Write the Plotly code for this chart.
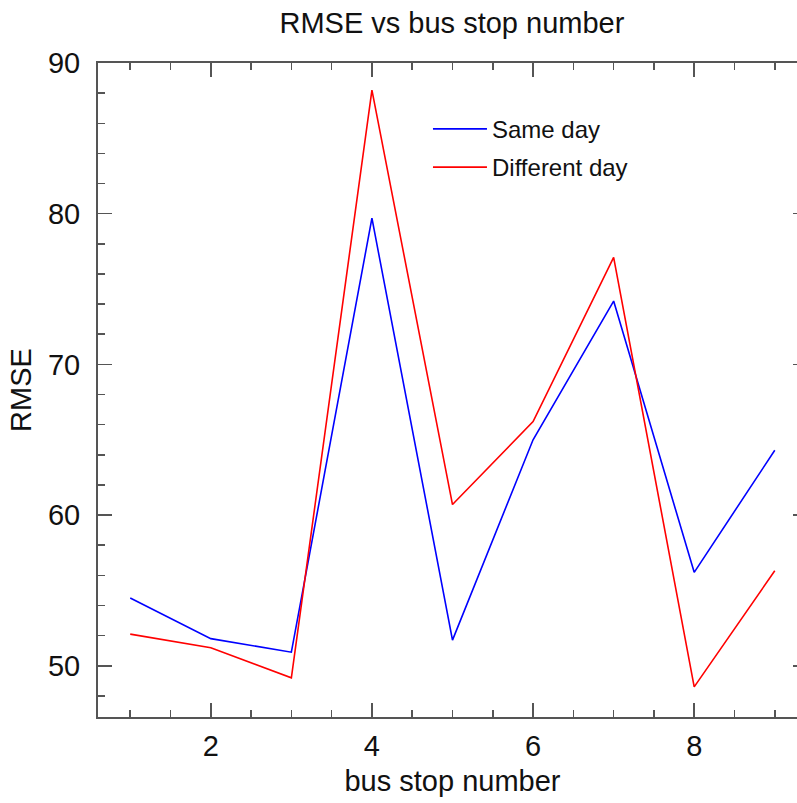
import plotly.graph_objects as go

bus_stop = [1, 2, 3, 4, 5, 6, 7, 8, 9]
same_day = [54.5, 51.8, 50.9, 79.7, 51.7, 65.0, 74.2, 56.2, 64.3]
different_day = [52.1, 51.2, 49.2, 88.2, 60.7, 66.2, 77.1, 48.6, 56.3]

FONT = "Liberation Sans, Arial, Helvetica, sans-serif"
AX = "#555555"
TXT = "#111111"

fig = go.Figure()
fig.add_trace(go.Scatter(x=bus_stop, y=same_day, mode="lines", name="Same day",
                         legendgroup="a", line=dict(color="#0000ff", width=1.6)))
fig.add_trace(go.Scatter(x=bus_stop, y=different_day, mode="lines", name="Different day",
                         legendgroup="b", line=dict(color="#ff0000", width=1.6)))

axis_common = dict(
    showline=True, linecolor=AX, linewidth=2, mirror="allticks",
    ticks="inside", ticklen=14, tickwidth=1.5, tickcolor=AX,
    showgrid=False, zeroline=False, automargin=False,
    tickfont=dict(family=FONT, size=29, color=TXT),
)

fig.update_xaxes(range=[0.6, 9.4], tick0=2, dtick=2,
                 minor=dict(ticks="inside", ticklen=7, tickwidth=1.5, tickcolor=AX, dtick=0.5, showgrid=False),
                 title=dict(text="bus stop number", font=dict(family=FONT, size=29, color=TXT), standoff=10),
                 ticklabelstandoff=2,
                 **axis_common)
fig.update_yaxes(range=[46.6, 90], tick0=50, dtick=10,
                 minor=dict(ticks="inside", ticklen=7, tickwidth=1.5, tickcolor=AX, dtick=2, showgrid=False),
                 title=dict(text="RMSE", font=dict(family=FONT, size=29, color=TXT), standoff=8),
                 ticklabelstandoff=10,
                 **axis_common)

# The reference frame's right edge lies just beyond the visible picture, so the figure is
# a little wider than the window and the page overflow is hidden.
fig.update_layout(
    width=807, height=803,
    margin=dict(l=98, r=0, t=63, b=86, autoexpand=False),
    paper_bgcolor="white", plot_bgcolor="white",
    title=dict(text="RMSE vs bus stop number", x=0.560, xanchor="center", y=0.9714, yanchor="middle",
               font=dict(family=FONT, size=29, color=TXT)),
    legend=dict(x=0.4654, y=0.933, xanchor="left", yanchor="top",
                font=dict(family=FONT, size=24, color=TXT),
                bgcolor="rgba(0,0,0,0)", tracegroupgap=4, itemwidth=54),
    showlegend=True,
    hovermode=False,
)

fig.write_html(
    "out.html",
    config={"displayModeBar": False, "staticPlot": True},
    post_script="document.body.style.margin='0';document.body.style.overflow='hidden';"
                "document.documentElement.style.overflow='hidden';",
)
